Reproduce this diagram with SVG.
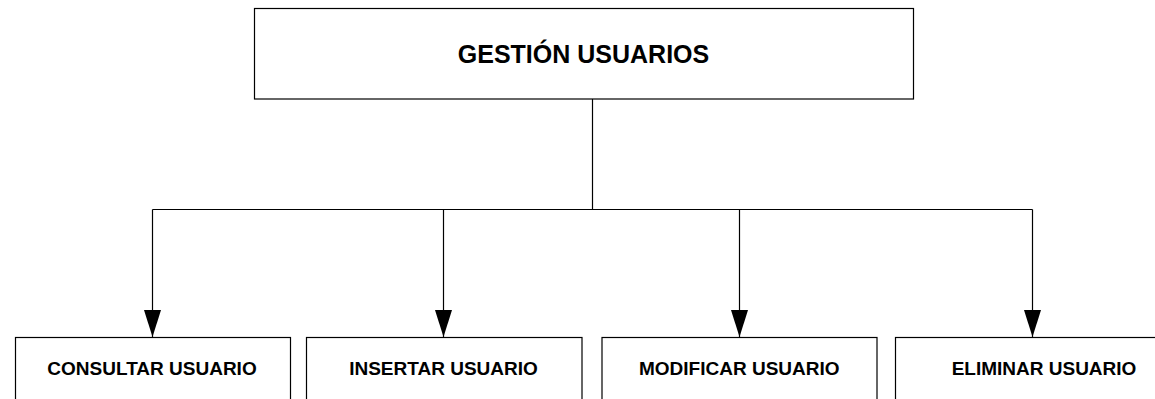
<svg xmlns="http://www.w3.org/2000/svg" width="1155" height="399" viewBox="0 0 1155 399">
  <style>
    .box { fill: #ffffff; stroke: #000000; stroke-width: 1.2; }
    .title { font-family: "Liberation Sans", Arial, sans-serif; font-weight: bold; font-size: 25px; fill: #000000; text-anchor: middle; }
    .label { font-family: "Liberation Sans", Arial, sans-serif; font-weight: bold; font-size: 19px; fill: #000000; text-anchor: middle; }
    .conn { fill: none; stroke: #000000; stroke-width: 1.2; }
  </style>
  <defs>
    <marker id="arrow" markerUnits="userSpaceOnUse" markerWidth="28" markerHeight="18" refX="27" refY="8.5" orient="auto" viewBox="0 0 28 18">
      <path d="M0,0 L27,8.5 L0,17 Z" fill="#000000"/>
    </marker>
  </defs>
  <rect x="0" y="0" width="1155" height="399" fill="#ffffff"/>
  <g id="connectors">
    <line class="conn" x1="592.5" y1="99" x2="592.5" y2="209.5"/>
    <line class="conn" x1="152.5" y1="209.5" x2="1032.5" y2="209.5"/>
    <line class="conn" x1="152.5" y1="209.5" x2="152.5" y2="337" marker-end="url(#arrow)"/>
    <line class="conn" x1="443.5" y1="209.5" x2="443.5" y2="337" marker-end="url(#arrow)"/>
    <line class="conn" x1="739.5" y1="209.5" x2="739.5" y2="337" marker-end="url(#arrow)"/>
    <line class="conn" x1="1032.5" y1="209.5" x2="1032.5" y2="337" marker-end="url(#arrow)"/>
  </g>
  <g id="gestion-usuarios">
    <rect class="box" x="254.5" y="8.5" width="659" height="90.5"/>
    <text class="title" x="583.5" y="63">GESTIÓN USUARIOS</text>
  </g>
  <g id="consultar-usuario">
    <rect class="box" x="15.5" y="337.5" width="275" height="90"/>
    <text class="label" x="152" y="375">CONSULTAR USUARIO</text>
  </g>
  <g id="insertar-usuario">
    <rect class="box" x="306.5" y="337.5" width="275.5" height="90"/>
    <text class="label" x="443.5" y="375">INSERTAR USUARIO</text>
  </g>
  <g id="modificar-usuario">
    <rect class="box" x="602" y="337.5" width="275" height="90"/>
    <text class="label" x="739.3" y="375">MODIFICAR USUARIO</text>
  </g>
  <g id="eliminar-usuario">
    <rect class="box" x="895.5" y="337.5" width="297" height="90"/>
    <text class="label" x="1044" y="375">ELIMINAR USUARIO</text>
  </g>
</svg>
